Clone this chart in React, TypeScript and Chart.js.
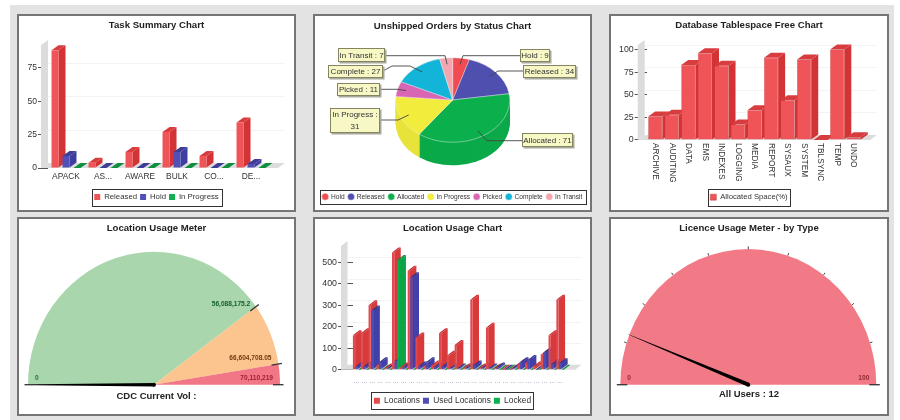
import React, { useEffect, useRef } from "react";
import { Chart, registerables } from "chart.js";

Chart.register(...registerables);
Chart.defaults.font.family = '"Liberation Sans", Arial, sans-serif';
Chart.defaults.color = "#333";

// ---------- data ----------
const taskLabels = ["APACK", "AS...", "AWARE", "BULK", "CO...", "DE..."];
const taskReleased = [88, 4, 12, 27, 9, 34];
const taskHold = [9, 0, 0, 12, 0, 3];
const taskInProgress = [0, 0, 0, 0, 0, 0];

const orderLabels = ["Hold", "Released", "Allocated", "In Progress", "Picked", "Complete", "In Transit"];
const orderValues = [9, 34, 71, 31, 11, 27, 7];
const orderColors = ["#f04b50", "#4f4fb0", "#0bb04c", "#f2ec3c", "#d965b5", "#12b5d8", "#f3a6b0"];

const spaceLabels = ["ARCHIVE", "AUDITING", "DATA", "EMS", "INDEXES", "LOGGING", "MEDIA", "REPORT", "SYSAUX", "SYSTEM", "TBLSYNC", "TEMP", "UNDO"];
const spaceValues = [26, 28, 83, 96, 82, 17, 33, 91, 44, 89, 0, 100, 3];

const usageLabels = ["...", "...", "...", "...", "...", "...", "...", "...", "...", "...", "...", "...", "...", "...", "...", "...", "...", "...", "...", "...", "...", "...", "...", "...", "...", "...", "..."];
const usageLocations = [160, 170, 300, 20, 5, 545, 10, 460, 150, 15, 20, 170, 65, 115, 5, 325, 5, 195, 5, 0, 0, 25, 30, 15, 70, 160, 325];
const usageUsed = [15, 15, 275, 35, 5, 40, 10, 430, 15, 35, 10, 15, 5, 5, 5, 20, 5, 5, 10, 0, 5, 35, 45, 0, 80, 25, 30];
const usageLocked = [0, 0, 0, 0, 0, 510, 0, 0, 0, 0, 0, 0, 0, 0, 0, 0, 0, 0, 0, 0, 0, 0, 0, 0, 0, 0, 0];

const meterStops = [0, 56088175.2, 66604708.05, 70110219];
const meterStopLabels = ["0", "56,088,175.2", "66,604,708.05", "70,110,219"];
const meterColors = ["#a9d6ac", "#fcc48f", "#f27786"];
const meterCurrent = 0;

const licenceMax = 100;
const licenceCurrent = 12;
const licenceTicks = [10, 20, 30, 40, 50, 60, 70, 80, 90];

// ---------- styling ----------
const RED = { front: "#ef5458", side: "#d43335", top: "#d83c3e" };
const BLUE = { front: "#5050b6", side: "#3e3ea2", top: "#3d3d98" };
const GREEN = { front: "#10b050", side: "#0c9a45", top: "#0d8f40" };
const RED2 = { front: "#e2494c", side: "#d8393b", top: "#c93034" };
const BLUE2 = { front: "#4d4db4", side: "#4040a8", top: "#35358f" };
const GREEN2 = { front: "#0db04e", side: "#0ba548", top: "#0a8f3e" };
const BORDER = 2;

const boxes = {
  task: { x: 17, y: 14, w: 279, h: 198 },
  orders: { x: 313, y: 14, w: 279, h: 198 },
  space: { x: 609, y: 14, w: 280, h: 198 },
  meter: { x: 17, y: 217, w: 279, h: 199 },
  usage: { x: 313, y: 217, w: 279, h: 199 },
  licence: { x: 609, y: 217, w: 280, h: 199 },
};
const originOf = (b: any) => ({ ox: b.x + BORDER, oy: b.y + BORDER, W: b.w - 2 * BORDER, H: b.h - 2 * BORDER });

const titleOpts = (text: string, center: number, areaTop: number, size = 9.6) => {
  const h = size * 1.2;
  return {
    display: true,
    text,
    font: { size, weight: "bold" as const },
    color: "#222",
    padding: { top: center - h / 2, bottom: Math.max(0, areaTop - center - h / 2) },
  };
};

const legendFrame = (pad: number, hpad: number) => ({
  id: "legendFrame",
  afterDraw(chart: any) {
    const hb = chart.legend?.legendHitBoxes;
    if (!hb || !hb.length) return;
    const l = Math.min(...hb.map((b: any) => b.left)) - hpad;
    const r = Math.max(...hb.map((b: any) => b.left + b.width)) + hpad;
    const t = Math.min(...hb.map((b: any) => b.top)) - pad;
    const bt = Math.max(...hb.map((b: any) => b.top + b.height)) + pad;
    const c = chart.ctx;
    c.save();
    c.strokeStyle = "#333";
    c.lineWidth = 1;
    c.strokeRect(Math.round(l) + 0.5, Math.round(t) + 0.5, Math.round(r - l), Math.round(bt - t));
    c.restore();
  },
});

const bar3d = (g: any) => ({
  id: "bar3d",
  beforeDatasetsDraw(chart: any) {
    const { ctx, chartArea: a, scales } = chart;
    const { dx, dy } = g;
    const L = g.wallX;
    const R = a.right + g.floorGap;
    ctx.save();
    ctx.fillStyle = "#dcdcdc";
    ctx.beginPath();
    ctx.moveTo(L, a.bottom);
    ctx.lineTo(L, a.top);
    ctx.lineTo(L + dx, a.top - dy);
    ctx.lineTo(L + dx, a.bottom - dy);
    ctx.closePath();
    ctx.fill();
    ctx.beginPath();
    ctx.moveTo(L, a.bottom);
    ctx.lineTo(R, a.bottom);
    ctx.lineTo(R + dx, a.bottom - dy);
    ctx.lineTo(L + dx, a.bottom - dy);
    ctx.closePath();
    ctx.fill();
    ctx.strokeStyle = "#f3f3f3";
    ctx.lineWidth = 1;
    scales.y.ticks.forEach((t: any) => {
      if (t.value === 0) return;
      const y = Math.round(scales.y.getPixelForValue(t.value) - dy) + 0.5;
      ctx.beginPath();
      ctx.moveTo(L + dx, y);
      ctx.lineTo(R + dx, y);
      ctx.stroke();
    });
    const metas = chart.getSortedVisibleDatasetMetas();
    const n = metas[0].data.length;
    for (let i = 0; i < n; i++) {
      metas.forEach((m: any) => {
        const el = m.data[i];
        const col = g.colors[m.index];
        const l = el.x - el.width / 2;
        const r = el.x + el.width / 2;
        ctx.fillStyle = col.side;
        ctx.beginPath();
        ctx.moveTo(r, el.base);
        ctx.lineTo(r, el.y);
        ctx.lineTo(r + dx, el.y - dy);
        ctx.lineTo(r + dx, el.base - dy);
        ctx.closePath();
        ctx.fill();
        ctx.fillStyle = col.top;
        ctx.beginPath();
        ctx.moveTo(l, el.y);
        ctx.lineTo(r, el.y);
        ctx.lineTo(r + dx, el.y - dy);
        ctx.lineTo(l + dx, el.y - dy);
        ctx.closePath();
        ctx.fill();
        if (el.base - el.y > 0.5) el.draw(ctx);
      });
    }
    ctx.restore();
    return false;
  },
});

// x-axis text drawn at the scale's own tick positions; rotated clockwise when asked
const xLabels = (o: any) => ({
  id: "xLabels",
  afterDraw(chart: any) {
    const { ctx, scales } = chart;
    ctx.save();
    ctx.font = `${o.size}px "Liberation Sans", Arial, sans-serif`;
    ctx.fillStyle = o.color;
    ctx.textAlign = o.rotate ? "left" : "center";
    ctx.textBaseline = "middle";
    chart.data.labels.forEach((t: string, i: number) => {
      ctx.save();
      ctx.translate(scales.x.getPixelForTick(i), o.y);
      if (o.rotate) ctx.rotate(Math.PI / 2);
      ctx.fillText(t, 0, 0);
      ctx.restore();
    });
    ctx.restore();
  },
});

function barConfig(box: any, o: any) {
  const { ox, oy, W, H } = originOf(box);
  const left = o.left - ox;
  const right = o.right - ox;
  const bottom = o.bottom - oy;
  const top = o.top - oy;
  const wallX = o.wallX - ox;
  const plugins: any[] = [
    bar3d({ dx: o.dx, dy: o.dy, wallX, floorGap: o.floorGap, colors: o.series.map((s: any) => s.color) }),
    legendFrame(o.legendPad, o.legendHPad),
    xLabels({ y: o.xY - oy, size: o.xSize, color: o.xColor || "#333", rotate: o.rotate }),
  ];
  return {
    type: "bar",
    data: {
      labels: o.labels,
      datasets: o.series.map((s: any) => ({
        label: s.label,
        data: s.data,
        backgroundColor: s.color.front,
        borderColor: o.edge || s.color.front,
        borderWidth: o.edge ? 0.5 : 0,
        barPercentage: o.bp,
        categoryPercentage: o.cp,
      })),
    },
    plugins,
    options: {
      responsive: false,
      animation: false,
      events: [],
      layout: { padding: { left: 0, right: 0, top: 0, bottom: o.legendBottom } },
      plugins: {
        tooltip: { enabled: false },
        title: titleOpts(o.title, o.titleY - oy, top),
        legend: {
          position: "bottom",
          labels: {
            boxWidth: 6,
            boxHeight: 6,
            padding: o.legendGap,
            color: "#333",
            font: { size: o.legendSize },
          },
        },
      },
      scales: {
        x: {
          offset: true,
          grid: { display: false },
          border: { display: false },
          ticks: { display: false },
          afterFit(s: any) {
            s.height = H - o.legendBottom - s.chart.legend.height - bottom;
          },
        },
        y: {
          min: 0,
          max: o.yMax,
          border: { display: false },
          grid: { drawOnChartArea: false, drawTicks: true, tickLength: left - wallX + 3, tickColor: "#555" },
          ticks: { stepSize: o.step, includeBounds: false, autoSkip: false, padding: 1, color: "#333", font: { size: o.tickSize } },
          afterFit(s: any) {
            s.width = left;
          },
        },
        spacer: {
          position: "right",
          display: true,
          grid: { display: false },
          border: { display: false },
          ticks: { display: false },
          afterFit(s: any) {
            s.width = W - right;
          },
        },
      },
    },
  };
}

// shift & squash arcs so the pie / dial can sit as an ellipse
const ellipse = (g: any) => ({
  id: "ellipse",
  beforeDatasetsDraw(chart: any) {
    const { ctx } = chart;
    const arcs = chart.getDatasetMeta(0).data;
    const a0 = arcs[0];
    ctx.save();
    ctx.translate(g.cx, g.cy);
    ctx.scale(1, g.sy);
    ctx.translate(-a0.x, -a0.y);
    for (let d = g.depth || 0; d >= 1; d--) {
      arcs.forEach((a: any, i: number) => {
        ctx.fillStyle = g.sideColors[i];
        ctx.beginPath();
        ctx.moveTo(a.x, a.y + d / g.sy);
        ctx.arc(a.x, a.y + d / g.sy, a.outerRadius, a.startAngle, a.endAngle);
        ctx.closePath();
        ctx.fill();
      });
    }
    arcs.forEach((a: any) => a.draw(ctx));
    ctx.restore();
    return false;
  },
});

const shade = (hex: string, k: number) => {
  const n = parseInt(hex.slice(1), 16);
  const f = (v: number) => Math.round(v * k);
  return `rgb(${f((n >> 16) & 255)},${f((n >> 8) & 255)},${f(n & 255)})`;
};

const pieLeaders = [
  [[520, 55.7], [463, 55.7]],
  [[523, 71], [498, 71]],
  [[522, 140.7], [486.7, 140.7]],
  [[380, 120], [398, 120]],
  [[380, 89.3], [398, 89.3]],
  [[383, 71], [392, 66], [410, 66]],
  [[385, 55.7], [445, 55.7]],
];
const pieBoxes = [
  { x: 520, y: 49, w: 30, h: 13 },
  { x: 523, y: 65, w: 53, h: 13 },
  { x: 522, y: 133, w: 51, h: 14 },
  { x: 330, y: 108, w: 50, h: 25 },
  { x: 337, y: 83, w: 43, h: 13 },
  { x: 328, y: 65, w: 55, h: 13 },
  { x: 338, y: 48, w: 47, h: 14 },
];

const pieCallouts = (g: any, ox: number, oy: number) => ({
  id: "pieCallouts",
  afterDraw(chart: any) {
    const { ctx } = chart;
    const arcs = chart.getDatasetMeta(0).data;
    ctx.save();
    ctx.font = '8px "Liberation Sans", Arial, sans-serif';
    ctx.textBaseline = "middle";
    ctx.textAlign = "center";
    arcs.forEach((a: any, i: number) => {
      const mid = (a.startAngle + a.endAngle) / 2;
      const ax = g.cx + Math.cos(mid) * a.outerRadius * 0.85;
      const ay = g.cy + Math.sin(mid) * a.outerRadius * 0.85 * g.sy;
      ctx.strokeStyle = "#444";
      ctx.lineWidth = 0.9;
      ctx.beginPath();
      pieLeaders[i].forEach((p: number[], k: number) => {
        if (k === 0) ctx.moveTo(p[0] - ox, p[1] - oy);
        else ctx.lineTo(p[0] - ox, p[1] - oy);
      });
      ctx.lineTo(ax, ay);
      ctx.stroke();
      const b = pieBoxes[i];
      const x = b.x - ox;
      const y = b.y - oy;
      ctx.fillStyle = "#a9a9a0";
      ctx.fillRect(x + 1.5, y + 1.5, b.w, b.h);
      ctx.fillStyle = "#f8f8c6";
      ctx.fillRect(x, y, b.w, b.h);
      ctx.strokeStyle = "#85855f";
      ctx.lineWidth = 1;
      ctx.strokeRect(x + 0.5, y + 0.5, b.w - 1, b.h - 1);
      ctx.fillStyle = "#333";
      if (b.h > 20) {
        ctx.fillText(`${orderLabels[i]} :`, x + b.w / 2, y + 7);
        ctx.fillText(String(orderValues[i]), x + b.w / 2, y + 18.5);
      } else {
        ctx.fillText(`${orderLabels[i]} : ${orderValues[i]}`, x + b.w / 2, y + b.h / 2 + 0.5);
      }
    });
    ctx.restore();
  },
});

function pieConfig() {
  const box = boxes.orders;
  const { ox, oy } = originOf(box);
  const g = {
    cx: 452.7 - ox,
    cy: 100 - oy,
    sy: 0.742,
    depth: 23,
    sideColors: orderColors.map((c) => shade(c, 0.96)),
  };
  return {
    type: "pie",
    data: {
      labels: orderLabels,
      datasets: [
        {
          data: orderValues,
          backgroundColor: orderColors,
          borderColor: "#f4f4f4",
          borderWidth: 0.5,
          radius: 57,
        },
      ],
    },
    plugins: [ellipse(g), pieCallouts(g, ox, oy), legendFrame(3.5, 3)],
    options: {
      responsive: false,
      animation: false,
      events: [],
      layout: { padding: { bottom: 0 } },
      plugins: {
        tooltip: { enabled: false },
        title: titleOpts("Unshipped Orders by Status Chart", 26 - oy, 30),
        legend: {
          position: "bottom",
          labels: {
            usePointStyle: true,
            pointStyle: "circle",
            boxWidth: 5,
            boxHeight: 5,
            padding: 4,
            color: "#333",
            font: { size: 6.6 },
          },
        },
      },
    },
  };
}

const dial = (g: any) => {
  // value -> [x, y] on the ellipse at radius r
  const at = (v: number, r: number) => {
    const t = Math.PI + (v / g.max) * Math.PI;
    return [g.cx + Math.cos(t) * r, g.cy + Math.sin(t) * r * g.sy];
  };
  return {
    id: "dial",
    afterDraw(chart: any) {
      const { ctx } = chart;
      const r = g.r;
      ctx.save();
      ctx.lineCap = "butt";
      ctx.strokeStyle = "#444";
      ctx.lineWidth = 1;
      (g.minor || []).forEach((v: number) => {
        const p = at(v, r);
        const q = at(v, r + 2.5);
        ctx.beginPath();
        ctx.moveTo(p[0], p[1]);
        ctx.lineTo(q[0], q[1]);
        ctx.stroke();
      });
      ctx.font = 'bold 6.6px "Liberation Sans", Arial, sans-serif';
      ctx.textBaseline = "middle";
      g.major.forEach((m: any) => {
        const p = at(m.v, r - 7);
        const q = at(m.v, r + 3.5);
        ctx.strokeStyle = "#333";
        ctx.lineWidth = 1.3;
        ctx.beginPath();
        ctx.moveTo(p[0], p[1]);
        ctx.lineTo(q[0], q[1]);
        ctx.stroke();
        ctx.fillStyle = m.color;
        ctx.textAlign = m.v === 0 ? "left" : "right";
        ctx.fillText(m.text, p[0], p[1] - 6.7);
      });
      const tip = at(g.value, g.needle);
      const ang = Math.atan2(tip[1] - g.cy, tip[0] - g.cx) + Math.PI / 2;
      const nx = Math.cos(ang);
      const ny = Math.sin(ang);
      ctx.fillStyle = "#000";
      ctx.beginPath();
      ctx.moveTo(g.cx + nx * g.needleW, g.cy + ny * g.needleW);
      ctx.lineTo(tip[0] + nx * g.tipW, tip[1] + ny * g.tipW);
      ctx.lineTo(tip[0] - nx * g.tipW, tip[1] - ny * g.tipW);
      ctx.lineTo(g.cx - nx * g.needleW, g.cy - ny * g.needleW);
      ctx.closePath();
      ctx.fill();
      ctx.beginPath();
      ctx.arc(g.cx, g.cy, 2, 0, Math.PI * 2);
      ctx.fill();
      ctx.restore();
    },
  };
};

function gaugeConfig(box: any, o: any) {
  const { ox, oy } = originOf(box);
  const g = { ...o.g, cx: o.g.cx - ox, cy: o.g.cy - oy };
  return {
    type: "doughnut",
    data: {
      labels: o.labels,
      datasets: [
        { data: o.values, backgroundColor: o.colors, borderWidth: 0, radius: o.g.r, cutout: 0 },
      ],
    },
    plugins: [ellipse(g), dial(g)],
    options: {
      responsive: false,
      animation: false,
      events: [],
      rotation: -90,
      circumference: 180,
      cutout: 0,
      plugins: {
        tooltip: { enabled: false },
        legend: { display: false },
        title: titleOpts(o.title, o.titleY - oy, 20),
        subtitle: {
          display: true,
          position: "bottom",
          text: o.caption,
          color: "#222",
          font: { size: 9.5, weight: "bold" as const },
          padding: { top: 0, bottom: o.captionBottom },
        },
      },
    },
  };
}

const configs: Record<string, () => any> = {
  task: () =>
    barConfig(boxes.task, {
      labels: taskLabels,
      series: [
        { label: "Released", data: taskReleased, color: RED },
        { label: "Hold", data: taskHold, color: BLUE },
        { label: "In Progress", data: taskInProgress, color: GREEN },
      ],
      title: "Task Summary Chart",
      titleY: 25.8,
      yMax: 92,
      step: 25,
      left: 47.5,
      right: 269.5,
      top: 45,
      bottom: 168,
      wallX: 41,
      floorGap: 8.5,
      dx: 7,
      dy: 5,
      bp: 0.636,
      cp: 0.89,
      tickSize: 8.6,
      xY: 177,
      xSize: 8.4,
      legendSize: 7.8,
      legendGap: 3,
      legendPad: 4.5,
      legendHPad: 2.5,
      legendBottom: -1,
    }),
  orders: pieConfig,
  space: () =>
    barConfig(boxes.space, {
      labels: spaceLabels,
      series: [{ label: "Allocated Space(%)", data: spaceValues, color: RED }],
      title: "Database Tablespace Free Chart",
      titleY: 25.8,
      yMax: 105,
      step: 25,
      left: 647,
      right: 862,
      top: 45,
      bottom: 140,
      wallX: 637.7,
      floorGap: 8,
      dx: 7,
      dy: 5,
      bp: 0.86,
      cp: 1,
      tickSize: 8.8,
      rotate: true,
      xY: 143,
      xSize: 8.3,
      legendSize: 7.7,
      legendGap: 3,
      legendPad: 4.5,
      legendHPad: 2.5,
      legendBottom: -1,
      edge: "#b8383c",
    }),
  meter: () =>
    gaugeConfig(boxes.meter, {
      labels: ["Normal", "Warning", "Critical"],
      values: [
        meterStops[1] - meterStops[0],
        meterStops[2] - meterStops[1],
        meterStops[3] - meterStops[2],
      ],
      colors: meterColors,
      title: "Location Usage Meter",
      titleY: 228,
      caption: "CDC Current Vol :",
      captionBottom: 12,
      g: {
        cx: 154,
        cy: 384.7,
        r: 126,
        sy: 1.055,
        max: meterStops[3],
        value: meterCurrent,
        needle: 119,
        needleW: 1.8,
        tipW: 0.5,
        major: [
          { v: meterStops[0], text: meterStopLabels[0], color: "#1c7a35" },
          { v: meterStops[1], text: meterStopLabels[1], color: "#14602c" },
          { v: meterStops[2], text: meterStopLabels[2], color: "#6e3b10" },
          { v: meterStops[3], text: meterStopLabels[3], color: "#a32030" },
        ],
      },
    }),
  usage: () =>
    barConfig(boxes.usage, {
      labels: usageLabels,
      series: [
        { label: "Locations", data: usageLocations, color: RED2 },
        { label: "Used Locations", data: usageUsed, color: BLUE2 },
        { label: "Locked", data: usageLocked, color: GREEN2 },
      ],
      title: "Location Usage Chart",
      titleY: 228,
      yMax: 575,
      step: 100,
      left: 352.7,
      right: 564,
      top: 246,
      bottom: 369.7,
      wallX: 341,
      floorGap: 11,
      dx: 6.5,
      dy: 5,
      bp: 0.85,
      cp: 1,
      tickSize: 8.8,
      xY: 381,
      xSize: 7,
      xColor: "#8a94a8",
      legendSize: 8.4,
      legendGap: 3,
      legendPad: 4.5,
      legendHPad: 2.5,
      legendBottom: -1,
    }),
  licence: () =>
    gaugeConfig(boxes.licence, {
      labels: ["All Users"],
      values: [licenceMax],
      colors: ["#f27a86"],
      title: "Licence Usage Meter - by Type",
      titleY: 228,
      caption: `All Users : ${licenceCurrent}`,
      captionBottom: 14,
      g: {
        cx: 748.3,
        cy: 384.7,
        r: 128,
        sy: 1.06,
        max: licenceMax,
        value: licenceCurrent,
        needle: 129,
        needleW: 2,
        tipW: 0.2,
        minor: licenceTicks,
        major: [
          { v: 0, text: "0", color: "#8e2a33" },
          { v: licenceMax, text: String(licenceMax), color: "#8e2a33" },
        ],
      },
    }),
};

function Panel({ id }: { id: string }) {
  const ref = useRef<HTMLCanvasElement | null>(null);
  const b = (boxes as any)[id];
  const { W, H } = originOf(b);
  useEffect(() => {
    const chart = new Chart(ref.current as HTMLCanvasElement, configs[id]() as any);
    return () => chart.destroy();
  }, [id]);
  return (
    <div
      style={{
        position: "absolute",
        left: b.x,
        top: b.y,
        width: b.w,
        height: b.h,
        boxSizing: "border-box",
        border: `${BORDER}px solid #757575`,
        background: "#fff",
      }}
    >
      <canvas ref={ref} width={W} height={H} style={{ display: "block", width: W, height: H }} />
    </div>
  );
}

export default function App() {
  return (
    <div style={{ position: "absolute", left: 0, top: 0, width: 900, height: 420, background: "#fff", overflow: "hidden" }}>
      <div style={{ position: "absolute", left: 10, top: 5, width: 884, height: 415, background: "#e3e3e3" }} />
      {Object.keys(boxes).map((id) => (
        <Panel key={id} id={id} />
      ))}
    </div>
  );
}
